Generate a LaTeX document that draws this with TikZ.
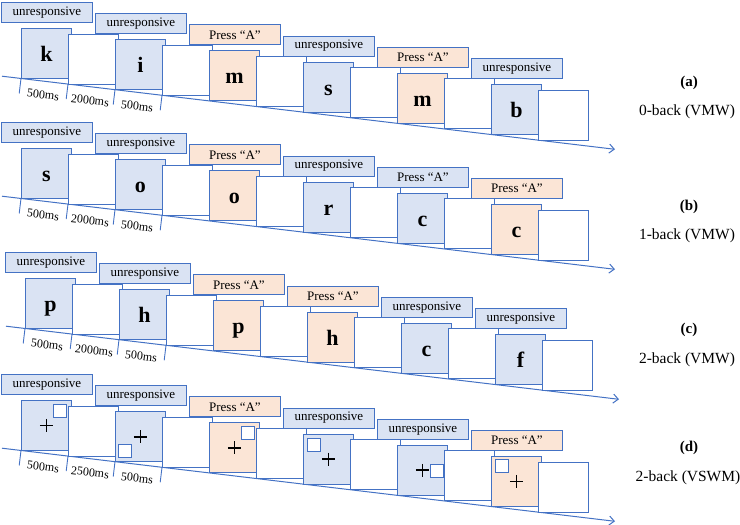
\documentclass[tikz,border=0pt]{standalone}
\usepackage{fontspec}
\setmainfont{Liberation Serif}
\usepackage{xcolor}
\definecolor{mblue}{HTML}{4472C4}
\definecolor{mcue}{HTML}{DAE3F3}
\definecolor{mpress}{HTML}{FBE5D6}
\usepackage{tikz}
\usetikzlibrary{arrows.meta}

\tikzset{
  card/.style={draw=mblue, line width=0.9pt, fill=white, anchor=north west,
    minimum size=50pt, inner sep=0pt, text height=16pt, text depth=0pt,
    font=\fontsize{22}{24}\selectfont\bfseries},
  cue/.style={draw=mblue, line width=0.9pt, anchor=north west,
    minimum width=91pt, minimum height=20pt, inner sep=0pt,
    font=\rmfamily\fontsize{13}{15}\selectfont},
  spot/.style={draw=mblue, line width=0.9pt, fill=white, anchor=north west,
    minimum size=13pt, inner sep=0pt},
  axis/.style={mblue, line width=1pt, -{Straight Barb[length=5pt,width=9pt]}},
  tickmark/.style={mblue, line width=0.9pt},
  dur/.style={font=\fontsize{12}{14}\selectfont, rotate=-6.8},
  tag/.style={font=\fontsize{15}{18}\selectfont\bfseries},
  task/.style={font=\fontsize{15.5}{18}\selectfont},
}

% time axis of one row, with the three durations under it
\newcommand{\tasktimeline}[2]{%
  \draw[axis] (-19,48.2) coordinate (#1-start) -- (594,121.3) coordinate (#1-end);
  \foreach \j in {0,...,3}
    \draw[tickmark] ({47*\j},{50.5+5.6*\j}) coordinate (#1-t\j) -- ++(-1.8,15);
  \foreach \j/\t in {0/500,1/#2,2/500}
    \node[dur] (#1-d\j) at ({47*\j+22},{66.8+5.6*\j}) {\t ms};
}

\begin{document}
\begin{tikzpicture}[x=1pt, y=-1pt]
  \useasboundingbox (0,0) rectangle (740,525);

  % letter rows
  \foreach \row/\ox/\oy/\cards in {
    a/21/28/{k/mcue/unresponsive, i/mcue/unresponsive, m/mpress/Press “A”,
             s/mcue/unresponsive, m/mpress/Press “A”, b/mcue/unresponsive},
    b/21/148/{s/mcue/unresponsive, o/mcue/unresponsive, o/mpress/Press “A”,
              r/mcue/unresponsive, c/mcue/Press “A”, c/mpress/Press “A”},
    c/25/278/{p/mcue/unresponsive, h/mcue/unresponsive, p/mpress/Press “A”,
              h/mpress/Press “A”, c/mcue/unresponsive, f/mcue/unresponsive}}
  {
    \begin{scope}[shift={(\ox,\oy)}]
      \tasktimeline{\row}{2000}
      \foreach \sym/\col/\txt [count=\k from 0] in \cards {
        \node[card, fill=\col] (\row-s\k) at ({94*\k},{11.2*\k}) {\sym};
        \node[card] (\row-b\k) at ({94*\k+47},{11.2*\k+5.6}) {};
        \node[cue, fill=\col] (\row-c\k) at ({94*\k-20},{11.2*\k-26}) {\txt};
      }
    \end{scope}
  }

  % spatial row
  \begin{scope}[shift={(21,400)}]
    \tasktimeline{d}{2500}
    \foreach \qx/\qy/\col/\txt [count=\k from 0] in {
      32/4/mcue/unresponsive, 3/33/mcue/unresponsive, 32/4/mpress/Press “A”,
      4/4/mcue/unresponsive, 33/19/mcue/unresponsive, 4/3/mpress/Press “A”} {
      \node[card, fill=\col] (d-s\k) at ({94*\k},{11.2*\k}) {};
      \node[spot] (d-q\k) at ({94*\k+\qx},{11.2*\k+\qy}) {};
      \draw[line width=1.7pt] (d-s\k.center) ++(-6.5,0) -- ++(13,0)
                              (d-s\k.center) ++(0,-6.5) -- ++(0,13);
      \node[card] (d-b\k) at ({94*\k+47},{11.2*\k+5.6}) {};
      \node[cue, fill=\col] (d-c\k) at ({94*\k-20},{11.2*\k-26}) {\txt};
    }
  \end{scope}

  \node[tag] (a-tag) at (689,83) {(a)};
  \node[task] (a-task) at (687,112) {0-back (VMW)};
  \node[tag] (b-tag) at (689,207) {(b)};
  \node[task] (b-task) at (687,236) {1-back (VMW)};
  \node[tag] (c-tag) at (689,330) {(c)};
  \node[task] (c-task) at (687,360) {2-back (VMW)};
  \node[tag] (d-tag) at (689,448) {(d)};
  \node[task] (d-task) at (688,478) {2-back (VSWM)};
\end{tikzpicture}
\end{document}
